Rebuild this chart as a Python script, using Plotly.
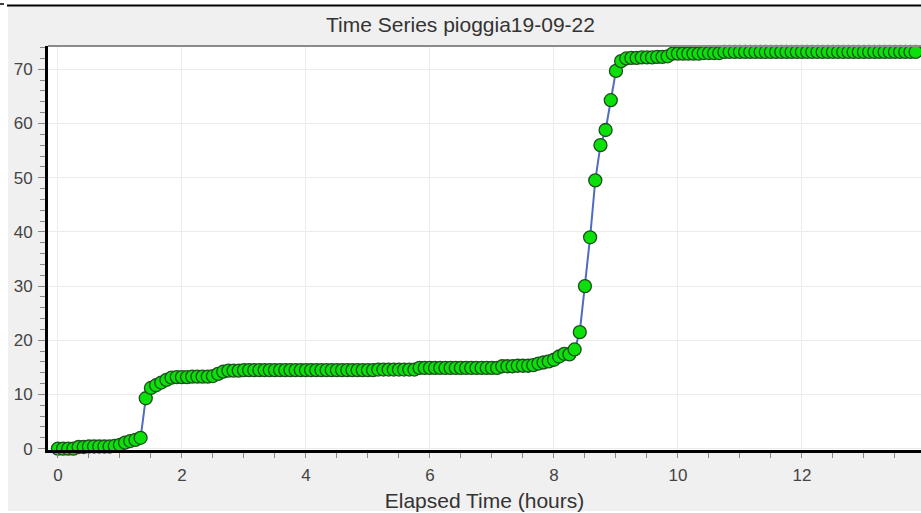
import plotly.graph_objects as go

# cumulative rain (mm), one reading every 5 minutes
interval_min = 5
rain_mm = [
    0.0, 0.0, 0.0, 0.0, 0.3, 0.3, 0.4, 0.4, 0.4, 0.4, 0.4, 0.5,
    0.7, 1.1, 1.4, 1.6, 2.0,
    9.3, 11.2, 11.7, 12.2, 12.7, 13.1,
    13.2, 13.2, 13.2, 13.3, 13.3, 13.3, 13.3, 13.4,
    13.8, 14.2, 14.4,
    14.4, 14.4, 14.5, 14.5, 14.5, 14.5, 14.5, 14.5, 14.5, 14.5, 14.5, 14.5,
    14.5, 14.5, 14.5, 14.5, 14.5, 14.5, 14.5, 14.5, 14.5, 14.5, 14.5, 14.5,
    14.5, 14.5, 14.5, 14.5, 14.6, 14.6, 14.6, 14.6, 14.6, 14.6, 14.6, 14.6,
    14.9, 14.9, 14.9, 14.9, 14.9, 14.9, 14.9, 14.9,
    14.9, 14.9, 14.9, 14.9, 14.9, 14.9, 14.9, 14.9,
    15.2, 15.2, 15.2, 15.3, 15.3, 15.3, 15.4,
    15.7, 15.9, 16.1, 16.4, 17.0, 17.5, 17.4, 18.3, 21.5, 30.0,
    39.0, 49.5, 56.0, 58.8, 64.3, 69.7, 71.5,
    72.0, 72.1, 72.1, 72.2, 72.2, 72.2, 72.3, 72.3, 72.4,
    72.9, 72.9, 72.9, 72.9, 72.9, 72.9, 73.0, 73.0, 73.0, 73.0,
    73.2, 73.2, 73.2, 73.2, 73.2, 73.2, 73.2, 73.2, 73.2, 73.2,
    73.2, 73.2, 73.2, 73.2, 73.2, 73.2, 73.2, 73.2, 73.2, 73.2,
    73.2, 73.2, 73.2, 73.2, 73.2, 73.2, 73.2, 73.2, 73.2, 73.2,
    73.2, 73.2, 73.2, 73.2, 73.2, 73.2, 73.2, 73.2,
]
elapsed_h = [i * interval_min / 60 for i in range(len(rain_mm))]

x_ticks = [0, 2, 4, 6, 8, 10, 12]
y_ticks = [0, 10, 20, 30, 40, 50, 60, 70]

fig = go.Figure()
fig.add_trace(go.Scatter(
    x=elapsed_h, y=rain_mm,
    mode='lines+markers',
    line=dict(color='#4f6dbf', width=2),
    marker=dict(size=13, color='#0be00b', line=dict(color='#1d4f1d', width=1.3)),
    showlegend=False,
    cliponaxis=False,
))

W, H = 921, 513
L, T, B = 48, 46, 63
pw, ph = W - L, H - T - B


def px(x):
    return (x - L) / pw


def py(y):
    return (H - B - y) / ph


shapes = [
    # top border of plot area
    dict(type='line', xref='paper', yref='paper', x0=0, x1=1, y0=1, y1=1,
         line=dict(color='#8a8a8a', width=2)),
    # white outer margins of the screenshot
    dict(type='rect', xref='paper', yref='paper', x0=px(0), x1=px(8), y0=py(513), y1=py(0),
         fillcolor='white', line=dict(width=0)),
    dict(type='rect', xref='paper', yref='paper', x0=px(0), x1=px(921), y0=py(6), y1=py(0),
         fillcolor='white', line=dict(width=0)),
    dict(type='rect', xref='paper', yref='paper', x0=px(0), x1=px(921), y0=py(513), y1=py(511),
         fillcolor='white', line=dict(width=0)),
    dict(type='line', xref='paper', yref='paper', x0=px(7), x1=px(921), y0=py(5.5), y1=py(5.5),
         line=dict(color='black', width=2)),
    dict(type='line', xref='paper', yref='paper', x0=px(0), x1=px(4), y0=py(4), y1=py(4),
         line=dict(color='black', width=1.5)),
]

fig.update_layout(
    width=W, height=H,
    margin=dict(l=L, r=0, t=T, b=B, autoexpand=False),
    paper_bgcolor='#f0f0f0',
    plot_bgcolor='white',
    font=dict(family='Liberation Sans, Arial, sans-serif', color='#333333'),
    title=dict(text='Time Series pioggia19-09-22', x=0.5, xref='container', xanchor='center',
               y=1 - 25 / H, yref='container', yanchor='middle',
               font=dict(size=21, color='#333333')),
    shapes=shapes,
    xaxis=dict(
        range=[-0.16, 13.92], tickvals=x_ticks, ticks='outside', ticklen=5, tickwidth=1,
        tickcolor='#888888', tickfont=dict(size=17, color='#444444'), ticklabelstandoff=3,
        showgrid=True, gridcolor='#ebebeb', zeroline=False,
        showline=True, linecolor='black', linewidth=3, automargin=False,
        minor=dict(dtick=0.5, tick0=0, ticks='outside', ticklen=5, tickcolor='#888888', showgrid=False),
        title=dict(text='Elapsed Time (hours)', font=dict(size=21, color='#333333'), standoff=9),
    ),
    yaxis=dict(
        range=[-0.25, 74.3], tickvals=y_ticks, ticks='outside', ticklen=7, tickwidth=1,
        tickcolor='#888888', tickfont=dict(size=17, color='#444444'), ticklabelstandoff=2,
        showgrid=True, gridcolor='#ebebeb', zeroline=False,
        showline=True, linecolor='black', linewidth=3, automargin=False,
        minor=dict(dtick=2, tick0=0, ticks='outside', ticklen=5, tickcolor='#888888', showgrid=False),
    ),
)

fig.write_html(
    "out.html",
    config=dict(displayModeBar=False),
    post_script="document.body.style.margin='0';document.body.style.overflow='hidden';",
)
